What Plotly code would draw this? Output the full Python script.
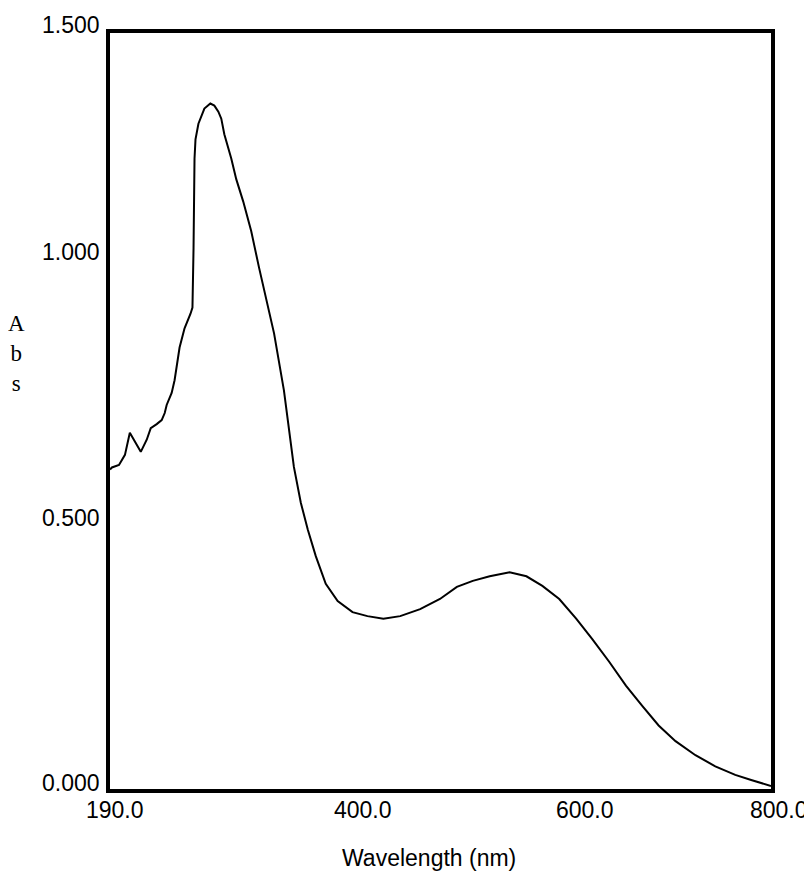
import plotly.graph_objects as go

# ---- data ----
wavelength_nm = [190.0, 191.8, 198.3, 203.8, 208.3, 212.0, 218.4, 223.9, 227.6, 233.1,
                 237.7, 240.5, 242.3, 246.9, 249.6, 254.2, 258.8, 264.3, 266.1, 267.1,
                 267.5, 268.0, 268.9, 271.6, 277.1, 282.6, 286.3, 290.0, 292.7, 295.5,
                 301.9, 306.5, 312.9, 320.3, 327.6, 333.1, 341.4, 350.5, 359.7, 366.1,
                 372.5, 379.9, 389.1, 400.1, 413.8, 427.6, 442.3, 457.8, 476.2, 494.5,
                 510.1, 524.8, 540.4, 558.8, 574.3, 589.0, 604.6, 620.2, 634.9, 650.5,
                 666.1, 680.8, 696.3, 711.9, 730.3, 748.6, 767.0, 781.7, 797.3, 800.0]
absorbance = [0.634, 0.638, 0.643, 0.663, 0.707, 0.693, 0.669, 0.693, 0.716, 0.724,
              0.732, 0.746, 0.762, 0.786, 0.811, 0.876, 0.914, 0.943, 0.955, 1.074,
              1.186, 1.251, 1.289, 1.320, 1.350, 1.360, 1.356, 1.344, 1.330, 1.299,
              1.251, 1.210, 1.166, 1.107, 1.034, 0.983, 0.904, 0.791, 0.639, 0.568,
              0.515, 0.462, 0.407, 0.373, 0.351, 0.343, 0.338, 0.343, 0.357, 0.377,
              0.401, 0.413, 0.422, 0.430, 0.422, 0.403, 0.377, 0.338, 0.298, 0.253,
              0.205, 0.166, 0.126, 0.095, 0.067, 0.045, 0.028, 0.018, 0.008, 0.006]

x_tick_vals = [190, 400, 600, 800]
x_tick_text = ["190.0", "400.0", "600.0", "800.0"]
y_tick_vals = [0.0, 0.5, 1.0, 1.5]
y_tick_text = ["0.000", "0.500", "1.000", "1.500"]

x_title = "Wavelength (nm)"
y_title = "A<br>b<br>s"

# ---- styling / layout ----
# the page body has an 8px default margin, so the figure is 8px smaller
OFF = 8
W, H = 812 - OFF, 872 - OFF
L, T = 110 - OFF, 33 - OFF
R = W - (771 - OFF)
B = H - (789 - OFF)
plot_w = W - L - R
plot_h = H - T - B

sans = "Liberation Sans, Arial, sans-serif"
serif = "Liberation Serif, Times New Roman, serif"
fs = 23

# pixel offsets of the tick labels as drawn in the reference
x_label_xshift = [5, 25, 31, 8]
y_label_yshift = [6, 19, 33, 8]

fig = go.Figure()
fig.add_trace(go.Scatter(x=wavelength_nm, y=absorbance, mode="lines",
                         line=dict(color="black", width=2), showlegend=False,
                         hoverinfo="x+y"))

annotations = []
for v, t, sh in zip(x_tick_vals, x_tick_text, x_label_xshift):
    annotations.append(dict(x=v, xref="x", y=0, yref="paper", text=t,
                            showarrow=False, xanchor="center", yanchor="middle",
                            xshift=sh, yshift=-21,
                            font=dict(family=sans, size=fs, color="black")))
for v, t, sh in zip(y_tick_vals, y_tick_text, y_label_yshift):
    annotations.append(dict(x=0, xref="paper", y=v, yref="y", text=t,
                            showarrow=False, xanchor="right", yanchor="middle",
                            xshift=-8, yshift=sh,
                            font=dict(family=sans, size=fs, color="black")))
annotations.append(dict(x=(429 - OFF - L) / plot_w, xref="paper", y=0, yref="paper",
                        text=x_title, showarrow=False, xanchor="center",
                        yanchor="middle", yshift=-69,
                        font=dict(family=sans, size=fs, color="black")))
annotations.append(dict(x=(16 - OFF - L) / plot_w, xref="paper",
                        y=(H - B - (353 - OFF)) / plot_h, yref="paper",
                        text=y_title, showarrow=False, xanchor="center",
                        yanchor="middle", align="center",
                        font=dict(family=serif, size=fs, color="black")))

fig.update_layout(
    width=W, height=H,
    margin=dict(l=L, r=R, t=T, b=B, pad=0),
    paper_bgcolor="white", plot_bgcolor="white",
    annotations=annotations,
    xaxis=dict(range=[190, 800], showgrid=False, zeroline=False,
               showline=True, mirror=True, linecolor="black", linewidth=4,
               ticks="", showticklabels=False, fixedrange=True),
    yaxis=dict(range=[0, 1.5], showgrid=False, zeroline=False,
               showline=True, mirror=True, linecolor="black", linewidth=4,
               ticks="", showticklabels=False, fixedrange=True),
)

fig.write_html("out.html")
